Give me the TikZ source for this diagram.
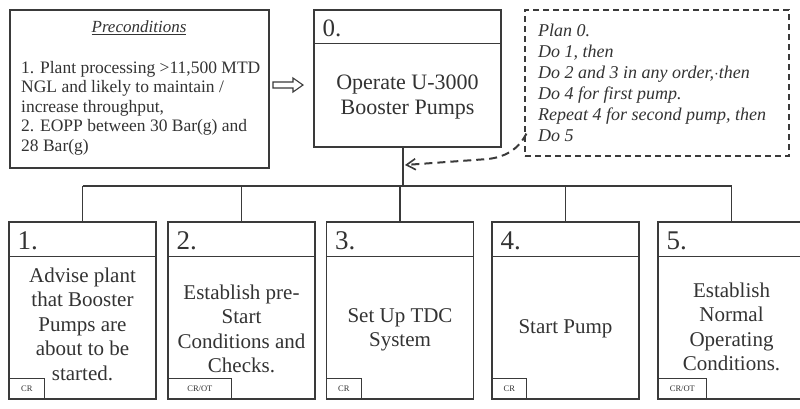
\documentclass[tikz,border=0pt]{standalone}
\usepackage{fontspec}
\setmainfont{Liberation Serif}
\usetikzlibrary{calc,arrows.meta}
\definecolor{ln}{HTML}{3A3A3A}
\definecolor{tx}{HTML}{333333}
\begin{document}
\begin{tikzpicture}[x=1pt,y=-1pt,
  box/.style={draw=ln, line width=1.3pt, rectangle, inner sep=0pt},
  kid/.style={box, minimum width=147pt, minimum height=177pt},
  numlab/.style={anchor=base west, text=tx, font=\fontsize{27}{29}\selectfont, inner sep=0pt},
  body/.style={text=tx, align=center, font=\fontsize{21}{24.5}\selectfont, inner sep=0pt},
  tag/.style={draw=ln, line width=1pt, anchor=south west, minimum height=21pt, inner sep=0pt, text=tx, font=\fontsize{8.5}{9}\selectfont},
  link/.style={draw=ln, line width=1.3pt},
  hollow/.style={draw=ln, line width=1.1pt, fill=white, line join=miter},
  planlink/.style={draw=ln, line width=2pt, dash pattern=on 8pt off 5pt, -{Straight Barb[length=9pt,width=11pt,line width=1.6pt]}},
]
\fill[white] (0,0) rectangle (800,408);
\clip (0,0) rectangle (800,408);

% Preconditions
\node[box, minimum width=259pt, minimum height=158pt] (pre) at (139.5,89) {};
\node[text=tx, font=\fontsize{17}{20}\selectfont\itshape, inner sep=0pt] (pretitle) at (139,28) {\underline{Preconditions}};
\node[anchor=north west, text=tx, align=left, font=\fontsize{17.5}{19.5}\selectfont, inner sep=0pt] (pretext) at (21,61)
  {1. Plant processing >11,500 MTD\\NGL and likely to maintain /\\increase throughput,\\2. EOPP between 30 Bar(g) and\\28 Bar(g)};

% Box 0
\node[box, minimum width=187pt, minimum height=137pt] (box0) at (407.5,78.5) {};
\draw[link] ($(box0.north west)+(0,34)$) -- ($(box0.north east)+(0,34)$);
\node[numlab, font=\fontsize{25}{27}\selectfont] (n0) at ($(box0.north west)+(9,27)$) {0.};
\node[body, font=\fontsize{22}{25}\selectfont] (t0) at (407.5,97) {Operate U-3000\\Booster Pumps};

% hollow arrow between preconditions and box 0
\coordinate (ha) at (273,85);
\draw[hollow] (ha) ++(0,-3) -- ++(20,0) -- ++(0,-4) -- ++(10,7) -- ++(-10,7) -- ++(0,-4) -- ++(-20,0) -- cycle;

% Plan box
\node[box, line width=1.2pt, dash pattern=on 6pt off 4pt, minimum width=264pt, minimum height=146pt] (plan) at (657,83) {};
\node[anchor=north west, text=tx, align=left, font=\fontsize{18}{21}\selectfont\itshape, inner sep=0pt] (plantext) at (538,24)
  {Plan 0.\\Do 1, then\\Do 2 and 3 in any order,$\cdot$then\\Do 4 for first pump.\\Repeat 4 for second pump, then\\Do 5};

% children
\node[kid] (c1) at (82.5,310.5) {};
\node[kid] (c2) at (241.5,310.5) {};
\node[kid] (c3) at (400,310.5) {};
\node[kid] (c4) at (565.5,310.5) {};
\node[kid] (c5) at (731.5,310.5) {};
\foreach \c/\n in {c1/1,c2/2,c3/3,c4/4,c5/5}{
  \draw[link] ($(\c.north west)+(0,35)$) -- ($(\c.north east)+(0,35)$);
  \node[numlab] (\c n) at ($(\c.north west)+(9,28)$) {\n.};
}
\node[body] (t1) at (82.5,324) {Advise plant\\that Booster\\Pumps are\\about to be\\started.};
\node[body] (t2) at (241.5,329) {Establish pre-\\Start\\Conditions and\\Checks.};
\node[body] (t3) at (400,330) {Set Up TDC\\System};
\node[body] (t4) at (565.5,329) {Start Pump};
\node[body] (t5) at (731.5,327) {Establish\\Normal\\Operating\\Conditions.};
\node[tag, minimum width=36pt] (g1) at (c1.south west) {CR};
\node[tag, minimum width=64pt] (g2) at (c2.south west) {CR/OT};
\node[tag, minimum width=35pt] (g3) at (c3.south west) {CR};
\node[tag, minimum width=35pt] (g4) at (c4.south west) {CR};
\node[tag, minimum width=49pt] (g5) at (c5.south west) {CR/OT};

% connectors
\coordinate (bus) at (403,186);
\draw[link] (box0.south -| bus) -- (bus);
\draw[link] (c1.north |- bus) -- (c5.north |- bus);
\foreach \c in {c1,c2,c3,c4,c5}{
  \draw[link] (\c.north) -- (\c.north |- bus);
}
\coordinate (tip) at (405,165);
\draw[planlink] ($(plan.south west)+(2,-23)$) .. controls (518,150) and (505,157) .. (488,159) -- (tip);
\end{tikzpicture}
\end{document}
